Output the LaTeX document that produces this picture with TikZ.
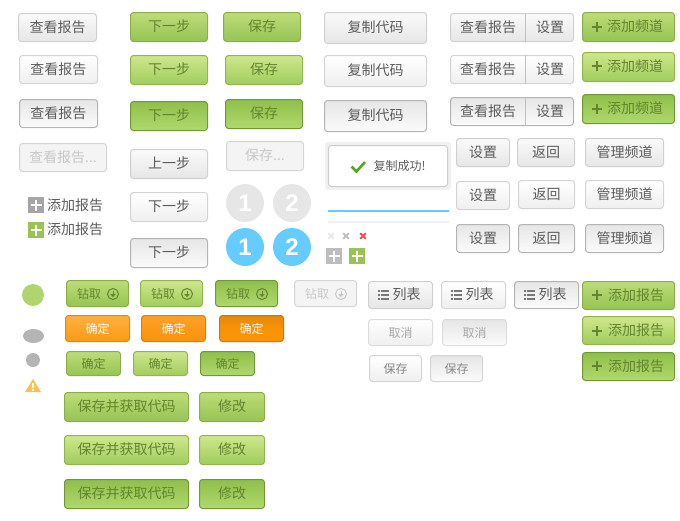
\documentclass[tikz,border=0pt]{standalone}
\usepackage{fontspec}
\setmainfont{Noto Sans CJK SC}
\newfontfamily\numfont{Liberation Sans}
\usetikzlibrary{shapes.geometric}
\definecolor{gtxt}{HTML}{64842F}
\definecolor{ctxt}{HTML}{5C5C5C}
\newcommand\dc[1]{\definecolor{c#1}{HTML}{#1}}
\dc{FAFAFA}\dc{E6E6E6}\dc{D0D0D0}\dc{C8C8C8}\dc{FFFFFF}\dc{EFEFEF}\dc{D4D4D4}\dc{CDCDCD}\dc{FBFBFB}\dc{B4B4B4}\dc{F4F4F4}
\dc{BDDC78}\dc{96C454}\dc{8CAD48}\dc{CFE78C}\dc{A0CC5E}\dc{93B550}\dc{8FC04A}\dc{B0D86E}\dc{739638}
\dc{FFB040}\dc{FA9A14}\dc{E08A14}\dc{FFA028}\dc{F9920C}\dc{D8820C}\dc{E6880C}\dc{FA9408}\dc{F99206}\dc{C87A10}
\dc{A6A6A6}\dc{99C455}\dc{66CCFF}\dc{F0F0F0}\dc{4FA81C}\dc{E8E8E8}\dc{C0C0C0}\dc{F05050}\dc{BDBDBD}
\dc{B0D46E}\dc{FFC050}\dc{A8A8A8}\dc{DCDCDC}\dc{888888}\dc{777777}
\tikzset{
 x=1pt,y=-1pt,
 base/.style={draw,rounded corners=3pt,line width=1pt,inner sep=0pt,align=center,text height=1.07em,text depth=.12em,font=\fontsize{14}{16}\selectfont},
 grey/.style={base,top color=cFAFAFA,bottom color=cE6E6E6,draw=cD0D0D0,text=ctxt},
 greyh/.style={base,top color=cFFFFFF,bottom color=cEFEFEF,draw=cD4D4D4,text=ctxt},
 greya/.style={base,top color=cE6E6E6,bottom color=cFBFBFB,draw=cB4B4B4,text=ctxt},
 dis/.style={base,fill=cF4F4F4,draw=cD4D4D4,text=cC8C8C8},
 green/.style={base,top color=cBDDC78,bottom color=c96C454,draw=c8CAD48,text=gtxt},
 greenh/.style={base,top color=cCFE78C,bottom color=cA0CC5E,draw=c93B550,text=gtxt},
 greena/.style={base,top color=c8FC04A,bottom color=cB0D86E,draw=c739638,text=gtxt},
 org/.style={base,top color=cFFB040,bottom color=cFA9A14,draw=cE08A14,text=white,font=\fontsize{12}{14}\selectfont},
 orgh/.style={base,top color=cFFA028,bottom color=cF9920C,draw=cD8820C,text=white,font=\fontsize{12}{14}\selectfont},
 orga/.style={base,top color=cE6880C,bottom color=cFA9408,middle color=cF99206,draw=cC87A10,text=white,font=\fontsize{12}{14}\selectfont},
 sm/.style={font=\fontsize{12}{14}\selectfont},
 plain/.style={inner sep=0pt,align=center,text height=1.07em,text depth=.12em,text=ctxt,font=\fontsize{14}{16}\selectfont},
 circ/.style={circle,inner sep=0pt,minimum size=38pt,text=white,font=\numfont\bfseries\fontsize{24}{26}\selectfont},
}
% name, style, x0, y0, x1, y1, text
\newcommand\btn[7]{\node[#2,minimum width={(#5-#3-1)*1pt},minimum height={(#6-#4-1)*1pt}] (#1) at ({(#3+#5)/2},{(#4+#6)/2}) {#7};}
\newcommand\pluss[3]{\draw[#3,line width=1.6pt] (#1-5,#2) -- (#1+5,#2) (#1,#2-5) -- (#1,#2+5);}
\newcommand\sq[3]{\fill[#3] (#1-8,#2-8) rectangle (#1+8,#2+8); \draw[white,line width=2.4pt] (#1-5.5,#2) -- (#1+5.5,#2) (#1,#2-5.5) -- (#1,#2+5.5);}
\newcommand\dl[3]{\draw[#3,line width=1pt] (#1,#2) circle (5.5); \draw[#3,line width=1pt] (#1,#2-3) -- (#1,#2+1.5); \fill[#3] (#1-2.8,#2) -- (#1+2.8,#2) -- (#1,#2+3.2) -- cycle;}
\newcommand\lst[2]{\foreach \d in {-4,0,4}{\fill[c777777] (#1-5.5,#2+\d-.75) rectangle (#1-3.7,#2+\d+.75); \fill[c777777] (#1-2.5,#2+\d-.75) rectangle (#1+5.5,#2+\d+.75);}}
\newcommand\xm[3]{\draw[#3,line width=1.8pt] (#1-2.8,#2-2.8) -- (#1+2.8,#2+2.8) (#1-2.8,#2+2.8) -- (#1+2.8,#2-2.8);}
\begin{document}
\begin{tikzpicture}
\useasboundingbox (0,0) rectangle (680,520);
% column 1
\btn{a1}{grey}{18}{13}{97}{42}{查看报告}
\btn{a2}{greyh}{19}{55}{98}{84}{查看报告}
\btn{a3}{greya}{19}{99}{98}{128}{查看报告}
\btn{a4}{dis}{19}{143}{107}{172}{查看报告...}
\sq{36}{205}{cA6A6A6}
\sq{36}{230}{c99C455}
\node[plain] (add1) at (75,206) {添加报告};
\node[plain] (add2) at (75,230) {添加报告};
% column 2
\btn{b1}{green}{130}{12}{208}{42}{下一步}
\btn{b2}{greenh}{130}{55}{208}{85}{下一步}
\btn{b3}{greena}{130}{101}{208}{131}{下一步}
\btn{b4}{grey}{130}{149}{208}{179}{上一步}
\btn{b5}{greyh}{130}{192}{208}{222}{下一步}
\btn{b6}{greya}{130}{238}{208}{268}{下一步}
% column 3
\btn{c1}{green}{223}{12}{301}{42}{保存}
\btn{c2}{greenh}{225}{55}{303}{85}{保存}
\btn{c3}{greena}{225}{99}{303}{129}{保存}
\btn{c4}{dis}{226}{141}{304}{171}{保存...}
\node[circ,fill=cE6E6E6] (n1) at (245,203) {1};
\node[circ,fill=cE6E6E6] (n2) at (292,203) {2};
\node[circ,fill=c66CCFF] (n3) at (245,247) {1};
\node[circ,fill=c66CCFF] (n4) at (292,247) {2};
% column 4
\btn{d1}{grey}{324}{12}{427}{44}{复制代码}
\btn{d2}{greyh}{324}{55}{427}{87}{复制代码}
\btn{d3}{greya}{324}{100}{427}{132}{复制代码}
\fill[cF0F0F0,rounded corners=3pt] (325,142) rectangle (451,190);
\node[base,fill=white,draw=cCDCDCD,sm,text=ctxt,minimum width=119pt,minimum height=41pt] (toast) at (388,166) {\hspace*{23pt}复制成功!};
\draw[c4FA81C,line width=2.6pt] (351.5,166.5) -- (356.5,171.5) -- (365,162);
\fill[c66CCFF] (328,210) rectangle (449,212);
\fill[cF0F0F0] (328,221) rectangle (449,223);
\xm{331}{236}{cE8E8E8}
\xm{346}{236}{cC0C0C0}
\xm{363}{236}{cF05050}
\sq{334}{256}{cBDBDBD}
\sq{357}{256}{c99C455}
% column 5
\btn{s1}{grey}{450}{13}{574}{42}{}
\btn{s2}{greyh}{450}{55}{574}{84}{}
\btn{s3}{greya}{450}{97}{574}{126}{}
\foreach \n/\yy in {1/13,2/55,3/97}{
 \node[plain] (sl\n) at (488,\yy+14.5) {查看报告};
 \node[plain] (sr\n) at (550,\yy+14.5) {设置};
 \draw[cC0C0C0,line width=1pt] (525.5,\yy) -- (525.5,\yy+29);
}
\btn{e1}{green}{582}{12}{675}{42}{\hspace*{13pt}添加频道}
\btn{e2}{greenh}{582}{52}{675}{82}{\hspace*{13pt}添加频道}
\btn{e3}{greena}{582}{94}{675}{124}{\hspace*{13pt}添加频道}
\pluss{597}{27}{gtxt}
\pluss{597}{66}{gtxt}
\pluss{597}{109}{gtxt}
\btn{f1}{grey}{456}{138}{510}{167}{设置}
\btn{f2}{grey}{517}{138}{575}{167}{返回}
\btn{f3}{grey}{585}{138}{664}{167}{管理频道}
\btn{f4}{greyh}{456}{181}{510}{210}{设置}
\btn{f5}{greyh}{518}{180}{575}{209}{返回}
\btn{f6}{greyh}{585}{180}{664}{209}{管理频道}
\btn{f7}{greya}{456}{224}{510}{253}{设置}
\btn{f8}{greya}{518}{224}{575}{253}{返回}
\btn{f9}{greya}{585}{224}{664}{253}{管理频道}
% status icons
\fill[cB0D46E] (33,295) circle (11);
\fill[cB4B4B4] (33.5,336) ellipse (10.5 and 7);
\fill[cB4B4B4] (33,360) circle (7);
\fill[cFFC050] (33,379) -- (41,392) -- (25,392) -- cycle;
\fill[white] (32.2,383) rectangle (33.8,388); \fill[white] (32.2,389) rectangle (33.8,390.5);
% bottom left
\btn{g1}{green,sm}{66}{280}{129}{307}{钻取\hspace*{17pt}}
\btn{g2}{greenh,sm}{140}{280}{203}{307}{钻取\hspace*{17pt}}
\btn{g3}{greena,sm}{215}{280}{278}{307}{钻取\hspace*{17pt}}
\btn{g4}{dis,sm}{294}{280}{357}{307}{钻取\hspace*{17pt}}
\dl{113}{294}{gtxt}
\dl{187}{294}{gtxt}
\dl{262}{294}{gtxt}
\dl{341}{294}{cC8C8C8}
\btn{h1}{org}{65}{315}{130}{342}{确定}
\btn{h2}{orgh}{141}{315}{206}{342}{确定}
\btn{h3}{orga}{219}{315}{284}{342}{确定}
\btn{i1}{green,sm}{66}{351}{121}{376}{确定}
\btn{i2}{greenh,sm}{133}{351}{188}{376}{确定}
\btn{i3}{greena,sm}{200}{351}{255}{376}{确定}
\btn{j1}{green}{64}{392}{189}{422}{保存并获取代码}
\btn{j2}{greenh}{64}{435}{189}{465}{保存并获取代码}
\btn{j3}{greena}{64}{479}{189}{509}{保存并获取代码}
\btn{k1}{green}{199}{392}{265}{422}{修改}
\btn{k2}{greenh}{199}{435}{265}{465}{修改}
\btn{k3}{greena}{199}{479}{265}{509}{修改}
% bottom right
\btn{l1}{grey}{368}{281}{433}{309}{\hspace*{12pt}列表}
\btn{l2}{greyh}{441}{281}{506}{309}{\hspace*{12pt}列表}
\btn{l3}{greya}{514}{281}{579}{309}{\hspace*{12pt}列表}
\lst{383.5}{295}
\lst{456.5}{295}
\lst{529.5}{295}
\btn{m1}{greyh,sm,text=cA8A8A8,draw=cDCDCDC}{368}{319}{433}{346}{取消}
\btn{m2}{greya,sm,text=cA8A8A8,draw=cDCDCDC}{442}{319}{507}{346}{取消}
\btn{o1}{greyh,sm,text=c888888}{369}{355}{422}{382}{保存}
\btn{o2}{greya,sm,text=c888888,draw=cD4D4D4}{430}{355}{483}{382}{保存}
\btn{p1}{green}{582}{281}{675}{310}{\hspace*{15pt}添加报告}
\btn{p2}{greenh}{582}{316}{675}{345}{\hspace*{15pt}添加报告}
\btn{p3}{greena}{582}{352}{675}{381}{\hspace*{15pt}添加报告}
\pluss{597}{295}{gtxt}
\pluss{597}{331}{gtxt}
\pluss{597}{366}{gtxt}
\end{tikzpicture}
\end{document}
